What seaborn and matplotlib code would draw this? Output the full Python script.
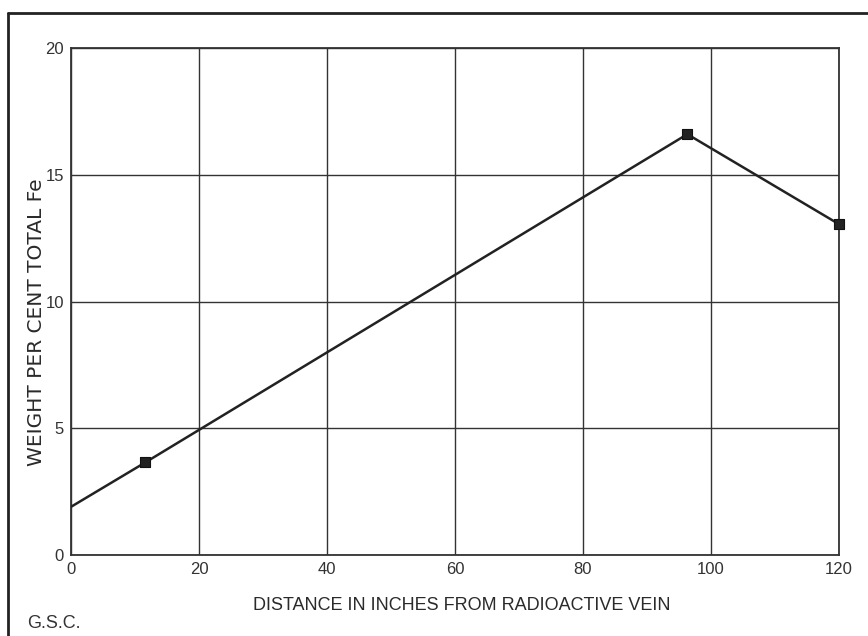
import matplotlib
matplotlib.use("Agg")
import matplotlib.pyplot as plt
import seaborn as sns
import pandas as pd
from matplotlib.lines import Line2D

# Data
distance = [0, 11.6, 96.3, 120]
fe_percent = [1.9, 3.65, 16.6, 13.05]
marker_distance = [11.6, 96.3, 120]
marker_fe = [3.65, 16.6, 13.05]
x_ticks = [0, 20, 40, 60, 80, 100, 120]
y_ticks = [0, 5, 10, 15, 20]

sns.set_theme(style="white")
plt.rcParams['font.family'] = ['Liberation Sans', 'DejaVu Sans']

fig = plt.figure(figsize=(8.68, 6.36), dpi=100)
ax = fig.add_axes([71/868, 1-555/636, (839-71)/868, (555-48)/636])

df = pd.DataFrame({"x": distance, "y": fe_percent})
dm = pd.DataFrame({"x": marker_distance, "y": marker_fe})
sns.lineplot(data=df, x="x", y="y", ax=ax, color="#222222", linewidth=1.8, zorder=3)
sns.scatterplot(data=dm, x="x", y="y", ax=ax, marker="s", s=55, color="#222222",
                edgecolor="#111111", linewidth=0.8, zorder=4, clip_on=False)

ax.set_xlim(0, 120)
ax.set_ylim(0, 20)
ax.set_xticks(x_ticks)
ax.set_yticks(y_ticks)
ax.set_xticklabels([str(v) for v in x_ticks], fontsize=12, color="#333333")
ax.set_yticklabels([str(v) for v in y_ticks], fontsize=12, color="#333333")
ax.tick_params(axis="both", length=0, pad=5)
ax.grid(True, color="#333333", linewidth=1.0)
for s in ax.spines.values():
    s.set_color("#333333")
    s.set_linewidth(1.3)

ax.set_xlabel("")
ax.set_ylabel("")
fig.text(462/868, 1-605/636, "DISTANCE IN INCHES FROM RADIOACTIVE VEIN", fontsize=13,
         color="#2a2a2a", ha="center", va="center")
fig.text(37/868, 1-322/636, "WEIGHT PER CENT TOTAL Fe", fontsize=14.5, rotation=90,
         color="#2a2a2a", ha="center", va="center", family=['DejaVu Sans'])

fig.text(27/868, 1-624/636, "G.S.C.", fontsize=13, color="#333333",
         va="center", ha="left")

# outer frame lines (left and top)
fig.add_artist(Line2D([8/868, 8/868], [0, 1-13/636], transform=fig.transFigure,
                      color="#222222", linewidth=2.0))
fig.add_artist(Line2D([8/868, 1], [1-13/636, 1-13/636], transform=fig.transFigure,
                      color="#222222", linewidth=2.0))

fig.savefig("out.png", dpi=100, facecolor="white")
